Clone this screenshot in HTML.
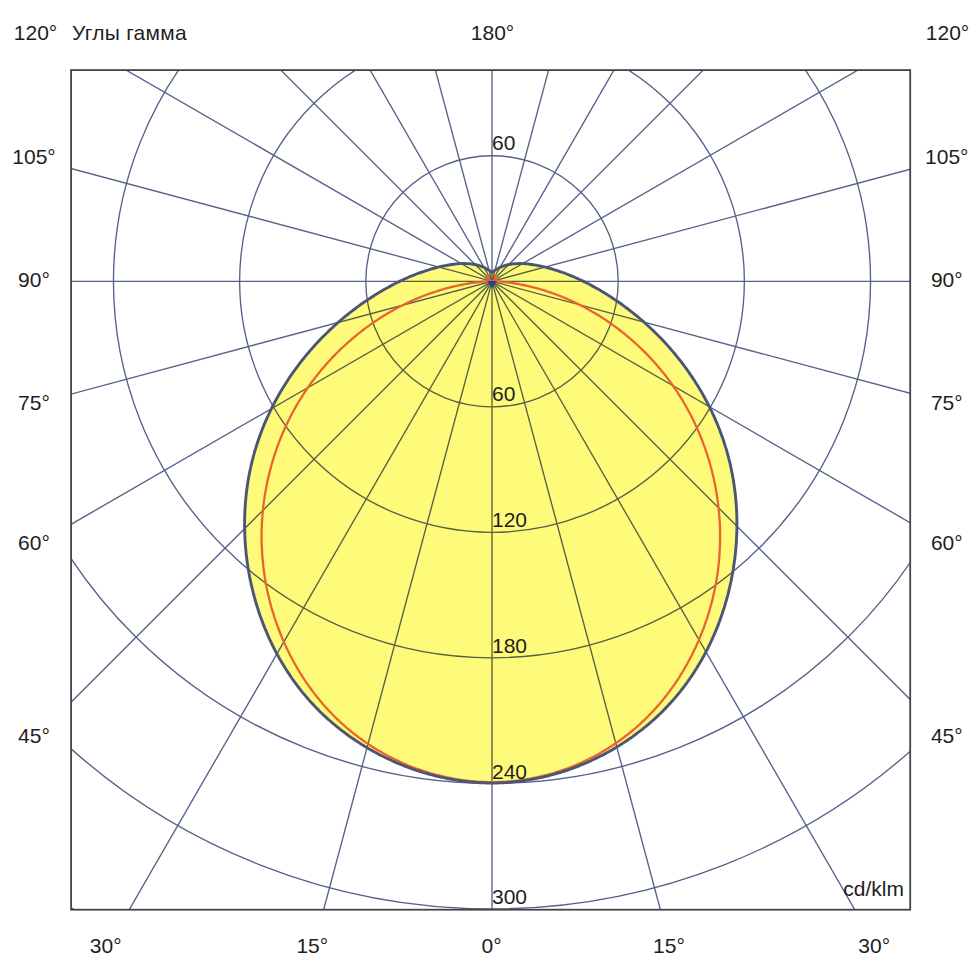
<!DOCTYPE html>
<html><head><meta charset="utf-8"><style>
html,body{margin:0;padding:0;background:#fff;width:980px;height:980px;overflow:hidden}
svg{display:block}
text{font-family:"Liberation Sans",sans-serif;font-size:21px;fill:#1e1e1e}
.g{mix-blend-mode:multiply}
</style></head><body>
<svg width="980" height="980" viewBox="0 0 980 980">
<defs><clipPath id="fr"><rect x="71.1" y="70.1" width="839.1" height="839.6"/></clipPath></defs>
<rect width="980" height="980" fill="#fff"/>
<g clip-path="url(#fr)">
<path d="M492.0,272.5 L490.3,271.1 L488.4,269.9 L486.6,268.8 L484.7,267.8 L482.7,266.9 L480.8,266.2 L478.8,265.5 L476.8,265.0 L474.8,264.5 L472.8,264.2 L470.7,263.9 L468.7,263.7 L466.6,263.6 L464.5,263.5 L462.4,263.5 L460.3,263.6 L458.2,263.7 L456.1,263.9 L454.0,264.2 L451.9,264.5 L449.8,264.8 L447.6,265.2 L445.5,265.6 L443.4,266.0 L441.3,266.4 L439.2,266.9 L437.1,267.4 L435.0,268.0 L433.0,268.5 L430.9,269.1 L428.8,269.8 L426.8,270.4 L424.7,271.1 L422.7,271.8 L420.6,272.5 L418.6,273.2 L416.5,274.0 L414.5,274.8 L412.5,275.6 L410.5,276.4 L408.5,277.3 L406.5,278.2 L404.5,279.0 L402.5,280.0 L400.5,280.9 L398.6,281.9 L396.6,282.8 L394.7,283.8 L392.7,284.8 L390.8,285.9 L388.9,286.9 L387.0,288.0 L385.1,289.0 L383.2,290.1 L381.3,291.2 L379.4,292.3 L377.5,293.5 L375.6,294.6 L373.8,295.8 L371.9,297.0 L370.1,298.2 L368.3,299.4 L366.5,300.6 L364.7,301.8 L362.9,303.0 L361.1,304.3 L359.3,305.6 L357.5,306.9 L355.8,308.2 L354.0,309.5 L352.3,310.8 L350.6,312.1 L348.9,313.5 L347.2,314.8 L345.5,316.2 L343.8,317.6 L342.1,319.0 L340.5,320.4 L338.8,321.8 L337.2,323.3 L335.5,324.7 L333.9,326.2 L332.3,327.7 L330.7,329.2 L329.1,330.6 L327.6,332.2 L326.0,333.7 L324.5,335.2 L322.9,336.7 L321.4,338.3 L319.9,339.9 L318.4,341.4 L316.9,343.0 L315.5,344.6 L314.0,346.2 L312.5,347.9 L311.1,349.5 L309.7,351.1 L308.3,352.8 L306.9,354.4 L305.5,356.1 L304.1,357.8 L302.8,359.5 L301.4,361.2 L300.1,362.9 L298.8,364.6 L297.5,366.4 L296.2,368.1 L294.9,369.8 L293.7,371.6 L292.4,373.4 L291.2,375.2 L289.9,376.9 L288.7,378.7 L287.6,380.5 L286.4,382.4 L285.2,384.2 L284.1,386.0 L282.9,387.9 L281.8,389.7 L280.7,391.6 L279.6,393.4 L278.5,395.3 L277.5,397.2 L276.4,399.1 L275.4,401.0 L274.4,402.9 L273.4,404.8 L272.4,406.7 L271.5,408.6 L270.5,410.6 L269.6,412.5 L268.7,414.5 L267.8,416.4 L266.9,418.4 L266.0,420.4 L265.1,422.4 L264.3,424.3 L263.5,426.3 L262.7,428.3 L261.9,430.3 L261.1,432.4 L260.4,434.4 L259.6,436.4 L258.9,438.4 L258.2,440.5 L257.5,442.5 L256.9,444.6 L256.2,446.6 L255.6,448.7 L254.9,450.7 L254.3,452.8 L253.8,454.9 L253.2,457.0 L252.7,459.1 L252.1,461.2 L251.6,463.3 L251.1,465.4 L250.7,467.5 L250.2,469.6 L249.8,471.7 L249.3,473.8 L248.9,476.0 L248.6,478.1 L248.2,480.2 L247.8,482.4 L247.5,484.5 L247.2,486.7 L246.9,488.8 L246.6,491.0 L246.4,493.1 L246.1,495.3 L245.9,497.4 L245.7,499.6 L245.5,501.8 L245.3,503.9 L245.2,506.1 L245.1,508.3 L244.9,510.4 L244.8,512.6 L244.8,514.8 L244.7,517.0 L244.6,519.1 L244.6,521.3 L244.6,523.5 L244.6,525.7 L244.6,527.9 L244.7,530.0 L244.7,532.2 L244.8,534.4 L244.9,536.6 L245.0,538.8 L245.1,540.9 L245.3,543.1 L245.4,545.3 L245.6,547.5 L245.8,549.7 L246.0,551.8 L246.2,554.0 L246.5,556.2 L246.7,558.3 L247.0,560.5 L247.3,562.7 L247.6,564.8 L247.9,567.0 L248.3,569.2 L248.7,571.3 L249.0,573.5 L249.4,575.6 L249.8,577.8 L250.3,579.9 L250.7,582.0 L251.2,584.2 L251.7,586.3 L252.2,588.4 L252.7,590.6 L253.2,592.7 L253.8,594.8 L254.3,596.9 L254.9,599.0 L255.5,601.1 L256.1,603.2 L256.7,605.3 L257.4,607.4 L258.1,609.5 L258.7,611.5 L259.4,613.6 L260.1,615.7 L260.9,617.7 L261.6,619.8 L262.4,621.8 L263.1,623.9 L263.9,625.9 L264.7,627.9 L265.6,629.9 L266.4,631.9 L267.3,633.9 L268.1,635.9 L269.0,637.9 L269.9,639.9 L270.9,641.9 L271.8,643.8 L272.8,645.8 L273.7,647.7 L274.7,649.6 L275.7,651.6 L276.7,653.5 L277.8,655.4 L278.8,657.3 L279.9,659.2 L281.0,661.1 L282.1,662.9 L283.2,664.8 L284.3,666.6 L285.4,668.5 L286.6,670.3 L287.8,672.1 L289.0,673.9 L290.2,675.7 L291.4,677.5 L292.6,679.3 L293.9,681.0 L295.2,682.8 L296.5,684.5 L297.8,686.3 L299.1,688.0 L300.4,689.7 L301.7,691.4 L303.1,693.1 L304.5,694.7 L305.9,696.4 L307.3,698.0 L308.7,699.6 L310.1,701.3 L311.6,702.9 L313.1,704.4 L314.5,706.0 L316.0,707.6 L317.6,709.1 L319.1,710.7 L320.6,712.2 L322.2,713.7 L323.7,715.2 L325.3,716.6 L326.9,718.1 L328.5,719.6 L330.2,721.0 L331.8,722.4 L333.4,723.8 L335.1,725.2 L336.8,726.6 L338.5,727.9 L340.2,729.3 L341.9,730.6 L343.6,731.9 L345.3,733.2 L347.1,734.5 L348.8,735.8 L350.6,737.1 L352.4,738.3 L354.2,739.5 L356.0,740.7 L357.8,741.9 L359.6,743.1 L361.4,744.3 L363.3,745.4 L365.1,746.6 L367.0,747.7 L368.9,748.8 L370.8,749.9 L372.7,750.9 L374.6,752.0 L376.5,753.0 L378.4,754.1 L380.3,755.1 L382.3,756.0 L384.2,757.0 L386.2,758.0 L388.1,758.9 L390.1,759.8 L392.1,760.7 L394.1,761.6 L396.0,762.5 L398.0,763.4 L400.1,764.2 L402.1,765.0 L404.1,765.8 L406.1,766.6 L408.2,767.4 L410.2,768.1 L412.2,768.9 L414.3,769.6 L416.4,770.3 L418.4,771.0 L420.5,771.6 L422.6,772.3 L424.7,772.9 L426.7,773.5 L428.8,774.1 L430.9,774.7 L433.0,775.2 L435.1,775.8 L437.2,776.3 L439.4,776.8 L441.5,777.3 L443.6,777.7 L445.7,778.2 L447.9,778.6 L450.0,779.0 L452.1,779.4 L454.3,779.8 L456.4,780.1 L458.6,780.5 L460.7,780.8 L462.9,781.1 L465.0,781.3 L467.2,781.6 L469.3,781.8 L471.5,782.1 L473.6,782.2 L475.8,782.4 L478.0,782.6 L480.1,782.7 L482.3,782.8 L484.5,782.9 L486.6,783.0 L488.8,783.1 L491.0,783.1 L493.0,783.1 L495.2,783.1 L497.3,783.0 L499.5,782.9 L501.6,782.8 L503.8,782.7 L505.9,782.6 L508.0,782.4 L510.2,782.2 L512.3,782.1 L514.5,781.8 L516.6,781.6 L518.7,781.3 L520.9,781.1 L523.0,780.8 L525.1,780.5 L527.2,780.1 L529.4,779.8 L531.5,779.4 L533.6,779.0 L535.7,778.6 L537.8,778.2 L539.9,777.7 L542.0,777.3 L544.1,776.8 L546.2,776.3 L548.3,775.8 L550.4,775.2 L552.5,774.7 L554.5,774.1 L556.6,773.5 L558.7,772.9 L560.7,772.3 L562.8,771.6 L564.8,771.0 L566.9,770.3 L568.9,769.6 L571.0,768.9 L573.0,768.1 L575.0,767.4 L577.0,766.6 L579.0,765.8 L581.0,765.0 L583.0,764.2 L585.0,763.4 L587.0,762.5 L589.0,761.6 L590.9,760.7 L592.9,759.8 L594.8,758.9 L596.8,758.0 L598.7,757.0 L600.6,756.0 L602.6,755.1 L604.5,754.1 L606.4,753.0 L608.3,752.0 L610.2,750.9 L612.0,749.9 L613.9,748.8 L615.7,747.7 L617.6,746.6 L619.4,745.4 L621.3,744.3 L623.1,743.1 L624.9,741.9 L626.7,740.7 L628.4,739.5 L630.2,738.3 L632.0,737.1 L633.7,735.8 L635.5,734.5 L637.2,733.2 L638.9,731.9 L640.6,730.6 L642.3,729.3 L644.0,727.9 L645.7,726.6 L647.3,725.2 L649.0,723.8 L650.6,722.4 L652.2,721.0 L653.8,719.6 L655.4,718.1 L657.0,716.6 L658.6,715.2 L660.1,713.7 L661.7,712.2 L663.2,710.7 L664.7,709.1 L666.2,707.6 L667.7,706.0 L669.1,704.4 L670.6,702.9 L672.0,701.3 L673.5,699.6 L674.9,698.0 L676.3,696.4 L677.6,694.7 L679.0,693.1 L680.4,691.4 L681.7,689.7 L683.0,688.0 L684.3,686.3 L685.6,684.5 L686.9,682.8 L688.1,681.0 L689.4,679.3 L690.6,677.5 L691.8,675.7 L693.0,673.9 L694.2,672.1 L695.3,670.3 L696.5,668.5 L697.6,666.6 L698.7,664.8 L699.8,662.9 L700.9,661.1 L702.0,659.2 L703.0,657.3 L704.1,655.4 L705.1,653.5 L706.1,651.6 L707.1,649.6 L708.1,647.7 L709.0,645.8 L710.0,643.8 L710.9,641.9 L711.8,639.9 L712.7,637.9 L713.6,635.9 L714.5,633.9 L715.3,631.9 L716.2,629.9 L717.0,627.9 L717.8,625.9 L718.6,623.9 L719.3,621.8 L720.1,619.8 L720.8,617.7 L721.5,615.7 L722.2,613.6 L722.9,611.5 L723.6,609.5 L724.3,607.4 L724.9,605.3 L725.5,603.2 L726.1,601.1 L726.7,599.0 L727.3,596.9 L727.9,594.8 L728.4,592.7 L728.9,590.6 L729.4,588.4 L729.9,586.3 L730.4,584.2 L730.9,582.0 L731.3,579.9 L731.7,577.8 L732.1,575.6 L732.5,573.5 L732.9,571.3 L733.3,569.2 L733.6,567.0 L733.9,564.8 L734.2,562.7 L734.5,560.5 L734.8,558.3 L735.1,556.2 L735.3,554.0 L735.5,551.8 L735.8,549.7 L735.9,547.5 L736.1,545.3 L736.3,543.1 L736.4,540.9 L736.5,538.8 L736.6,536.6 L736.7,534.4 L736.8,532.2 L736.9,530.0 L736.9,527.9 L736.9,525.7 L736.9,523.5 L736.9,521.3 L736.9,519.1 L736.8,517.0 L736.8,514.8 L736.7,512.6 L736.6,510.4 L736.5,508.3 L736.3,506.1 L736.2,503.9 L736.0,501.8 L735.8,499.6 L735.6,497.4 L735.4,495.3 L735.2,493.1 L734.9,491.0 L734.6,488.8 L734.3,486.7 L734.0,484.5 L733.7,482.4 L733.4,480.2 L733.0,478.1 L732.6,476.0 L732.2,473.8 L731.8,471.7 L731.4,469.6 L730.9,467.5 L730.5,465.4 L730.0,463.3 L729.5,461.2 L728.9,459.1 L728.4,457.0 L727.8,454.9 L727.3,452.8 L726.7,450.7 L726.1,448.7 L725.4,446.6 L724.8,444.6 L724.1,442.5 L723.5,440.5 L722.8,438.4 L722.0,436.4 L721.3,434.4 L720.6,432.4 L719.8,430.3 L719.0,428.3 L718.2,426.3 L717.4,424.3 L716.6,422.4 L715.7,420.4 L714.9,418.4 L714.0,416.4 L713.1,414.5 L712.2,412.5 L711.3,410.6 L710.3,408.6 L709.4,406.7 L708.4,404.8 L707.4,402.9 L706.4,401.0 L705.4,399.1 L704.4,397.2 L703.3,395.3 L702.3,393.4 L701.2,391.6 L700.1,389.7 L699.0,387.9 L697.9,386.0 L696.7,384.2 L695.6,382.4 L694.4,380.5 L693.2,378.7 L692.0,376.9 L690.8,375.2 L689.6,373.4 L688.4,371.6 L687.1,369.8 L685.9,368.1 L684.6,366.4 L683.3,364.6 L682.0,362.9 L680.7,361.2 L679.3,359.5 L678.0,357.8 L676.6,356.1 L675.3,354.4 L673.9,352.8 L672.5,351.1 L671.1,349.5 L669.7,347.9 L668.2,346.2 L666.8,344.6 L665.3,343.0 L663.9,341.4 L662.4,339.9 L660.9,338.3 L659.4,336.7 L657.9,335.2 L656.3,333.7 L654.8,332.2 L653.2,330.6 L651.7,329.2 L650.1,327.7 L648.5,326.2 L646.9,324.7 L645.3,323.3 L643.7,321.8 L642.0,320.4 L640.4,319.0 L638.7,317.6 L637.1,316.2 L635.4,314.8 L633.7,313.5 L632.0,312.1 L630.3,310.8 L628.6,309.5 L626.9,308.2 L625.1,306.9 L623.4,305.6 L621.6,304.3 L619.8,303.0 L618.1,301.8 L616.3,300.6 L614.5,299.4 L612.7,298.2 L610.9,297.0 L609.0,295.8 L607.2,294.6 L605.3,293.5 L603.5,292.3 L601.6,291.2 L599.8,290.1 L597.9,289.0 L596.0,288.0 L594.1,286.9 L592.2,285.9 L590.3,284.8 L588.4,283.8 L586.4,282.8 L584.5,281.9 L582.5,280.9 L580.6,280.0 L578.6,279.0 L576.7,278.2 L574.7,277.3 L572.7,276.4 L570.7,275.6 L568.7,274.8 L566.7,274.0 L564.7,273.2 L562.7,272.5 L560.7,271.8 L558.6,271.1 L556.6,270.4 L554.5,269.8 L552.5,269.1 L550.4,268.5 L548.4,268.0 L546.3,267.4 L544.3,266.9 L542.2,266.4 L540.1,266.0 L538.0,265.6 L535.9,265.2 L533.8,264.8 L531.7,264.5 L529.6,264.2 L527.5,263.9 L525.4,263.7 L523.4,263.6 L521.3,263.5 L519.2,263.5 L517.1,263.6 L515.1,263.7 L513.0,263.9 L511.0,264.2 L509.0,264.5 L507.0,265.0 L505.0,265.5 L503.1,266.2 L501.2,266.9 L499.3,267.8 L497.4,268.8 L495.5,269.9 L493.7,271.1 L492.0,272.5 Z" fill="#fefb7b" stroke="none"/>
<g class="g" stroke="#56618a" stroke-width="1.35" fill="none">
<line x1="492" y1="-1718.7" x2="492" y2="2281.3"/>
<line x1="-25.64" y1="-1650.55" x2="1009.64" y2="2213.15"/>
<line x1="-508" y1="-1450.75" x2="1492" y2="2013.35"/>
<line x1="-922.21" y1="-1132.91" x2="1906.21" y2="1695.51"/>
<line x1="-1240.05" y1="-718.7" x2="2224.05" y2="1281.3"/>
<line x1="-1439.85" y1="-236.34" x2="2423.85" y2="798.94"/>
<line x1="-1508" y1="281.3" x2="2492" y2="281.3"/>
<line x1="-1439.85" y1="798.94" x2="2423.85" y2="-236.34"/>
<line x1="-1240.05" y1="1281.3" x2="2224.05" y2="-718.7"/>
<line x1="-922.21" y1="1695.51" x2="1906.21" y2="-1132.91"/>
<line x1="-508" y1="2013.35" x2="1492" y2="-1450.75"/>
<line x1="-25.64" y1="2213.15" x2="1009.64" y2="-1650.55"/>
<ellipse cx="492" cy="281.3" rx="126.18" ry="125.52"/>
<ellipse cx="492" cy="281.3" rx="252.36" ry="251.04"/>
<ellipse cx="492" cy="281.3" rx="378.54" ry="376.56"/>
<ellipse cx="492" cy="281.3" rx="504.72" ry="502.08"/>
<ellipse cx="492" cy="281.3" rx="630.9" ry="627.6"/>
<ellipse cx="492" cy="281.3" rx="757.08" ry="753.12"/>
</g>
<path d="M492.0,281.0 L489.9,281.1 L487.8,281.2 L485.6,281.4 L483.5,281.6 L481.4,281.8 L479.3,282.0 L477.2,282.3 L475.1,282.5 L473.0,282.8 L470.9,283.1 L468.8,283.5 L466.7,283.8 L464.7,284.2 L462.6,284.6 L460.5,285.0 L458.4,285.4 L456.4,285.9 L454.3,286.3 L452.2,286.8 L450.2,287.4 L448.1,287.9 L446.1,288.4 L444.1,289.0 L442.0,289.6 L440.0,290.2 L438.0,290.8 L436.0,291.5 L434.0,292.1 L432.0,292.8 L430.0,293.5 L428.0,294.2 L426.0,295.0 L424.0,295.7 L422.0,296.5 L420.1,297.3 L418.1,298.1 L416.2,298.9 L414.2,299.8 L412.3,300.6 L410.4,301.5 L408.4,302.4 L406.5,303.3 L404.6,304.2 L402.7,305.2 L400.8,306.1 L398.9,307.1 L397.1,308.1 L395.2,309.1 L393.3,310.2 L391.5,311.2 L389.6,312.3 L387.8,313.3 L386.0,314.4 L384.2,315.5 L382.4,316.6 L380.6,317.8 L378.8,318.9 L377.0,320.1 L375.2,321.3 L373.5,322.5 L371.7,323.7 L370.0,324.9 L368.3,326.2 L366.5,327.4 L364.8,328.7 L363.1,330.0 L361.4,331.3 L359.8,332.6 L358.1,333.9 L356.4,335.3 L354.8,336.6 L353.2,338.0 L351.5,339.4 L349.9,340.8 L348.3,342.2 L346.7,343.6 L345.2,345.0 L343.6,346.5 L342.0,347.9 L340.5,349.4 L339.0,350.9 L337.5,352.4 L335.9,353.9 L334.5,355.4 L333.0,356.9 L331.5,358.5 L330.1,360.0 L328.6,361.6 L327.2,363.2 L325.8,364.8 L324.4,366.4 L323.0,368.0 L321.6,369.6 L320.3,371.3 L318.9,372.9 L317.6,374.6 L316.3,376.2 L315.0,377.9 L313.7,379.6 L312.4,381.3 L311.1,383.0 L309.9,384.7 L308.7,386.5 L307.5,388.2 L306.3,390.0 L305.1,391.7 L303.9,393.5 L302.8,395.3 L301.6,397.1 L300.5,398.9 L299.4,400.7 L298.3,402.5 L297.2,404.3 L296.2,406.1 L295.1,408.0 L294.1,409.8 L293.1,411.7 L292.1,413.5 L291.1,415.4 L290.1,417.3 L289.2,419.2 L288.2,421.1 L287.3,423.0 L286.4,424.9 L285.5,426.8 L284.6,428.8 L283.8,430.7 L282.9,432.6 L282.1,434.6 L281.3,436.5 L280.5,438.5 L279.7,440.5 L279.0,442.4 L278.2,444.4 L277.5,446.4 L276.8,448.4 L276.1,450.4 L275.4,452.4 L274.7,454.4 L274.1,456.4 L273.4,458.4 L272.8,460.4 L272.2,462.5 L271.6,464.5 L271.1,466.5 L270.5,468.6 L270.0,470.6 L269.5,472.7 L269.0,474.7 L268.5,476.8 L268.0,478.8 L267.5,480.9 L267.1,483.0 L266.7,485.1 L266.3,487.1 L265.9,489.2 L265.5,491.3 L265.2,493.4 L264.8,495.5 L264.5,497.6 L264.2,499.7 L263.9,501.8 L263.6,503.9 L263.4,506.0 L263.1,508.1 L262.9,510.2 L262.7,512.3 L262.5,514.4 L262.4,516.5 L262.2,518.6 L262.1,520.7 L261.9,522.9 L261.8,525.0 L261.8,527.1 L261.7,529.2 L261.6,531.3 L261.6,533.4 L261.6,535.6 L261.6,537.7 L261.6,539.8 L261.6,541.9 L261.7,544.1 L261.8,546.2 L261.9,548.3 L262.0,550.4 L262.1,552.5 L262.2,554.7 L262.4,556.8 L262.6,558.9 L262.7,561.0 L263.0,563.1 L263.2,565.2 L263.4,567.4 L263.7,569.5 L264.0,571.6 L264.3,573.7 L264.6,575.8 L264.9,577.9 L265.3,580.0 L265.6,582.1 L266.0,584.2 L266.4,586.3 L266.8,588.4 L267.3,590.5 L267.7,592.6 L268.2,594.6 L268.7,596.7 L269.2,598.8 L269.7,600.9 L270.2,602.9 L270.8,605.0 L271.3,607.0 L271.9,609.1 L272.5,611.1 L273.2,613.2 L273.8,615.2 L274.4,617.3 L275.1,619.3 L275.8,621.3 L276.5,623.3 L277.2,625.3 L278.0,627.3 L278.7,629.3 L279.5,631.3 L280.3,633.3 L281.1,635.3 L281.9,637.3 L282.7,639.2 L283.5,641.2 L284.4,643.1 L285.3,645.1 L286.2,647.0 L287.1,648.9 L288.0,650.8 L289.0,652.8 L289.9,654.7 L290.9,656.6 L291.9,658.4 L292.9,660.3 L293.9,662.2 L294.9,664.0 L296.0,665.9 L297.0,667.7 L298.1,669.6 L299.2,671.4 L300.3,673.2 L301.5,675.0 L302.6,676.8 L303.7,678.6 L304.9,680.3 L306.1,682.1 L307.3,683.8 L308.5,685.6 L309.7,687.3 L311.0,689.0 L312.2,690.7 L313.5,692.4 L314.8,694.1 L316.1,695.8 L317.4,697.4 L318.8,699.1 L320.1,700.7 L321.5,702.3 L322.8,703.9 L324.2,705.5 L325.6,707.1 L327.1,708.7 L328.5,710.2 L329.9,711.8 L331.4,713.3 L332.9,714.8 L334.3,716.3 L335.8,717.8 L337.4,719.3 L338.9,720.7 L340.4,722.2 L342.0,723.6 L343.6,725.0 L345.1,726.4 L346.7,727.8 L348.3,729.1 L350.0,730.5 L351.6,731.8 L353.3,733.1 L354.9,734.5 L356.6,735.7 L358.3,737.0 L360.0,738.3 L361.7,739.5 L363.4,740.7 L365.1,742.0 L366.9,743.1 L368.6,744.3 L370.4,745.5 L372.2,746.6 L373.9,747.8 L375.7,748.9 L377.5,750.0 L379.4,751.1 L381.2,752.1 L383.0,753.2 L384.9,754.2 L386.7,755.2 L388.6,756.2 L390.5,757.2 L392.3,758.1 L394.2,759.1 L396.1,760.0 L398.0,760.9 L400.0,761.8 L401.9,762.7 L403.8,763.5 L405.8,764.4 L407.7,765.2 L409.7,766.0 L411.6,766.8 L413.6,767.5 L415.6,768.3 L417.6,769.0 L419.6,769.7 L421.6,770.4 L423.6,771.1 L425.6,771.7 L427.6,772.3 L429.6,773.0 L431.7,773.5 L433.7,774.1 L435.7,774.7 L437.8,775.2 L439.9,775.7 L441.9,776.2 L444.0,776.7 L446.0,777.2 L448.1,777.6 L450.2,778.0 L452.3,778.4 L454.4,778.8 L456.5,779.2 L458.6,779.5 L460.7,779.8 L462.8,780.1 L464.9,780.4 L467.0,780.6 L469.1,780.9 L471.2,781.1 L473.3,781.3 L475.4,781.5 L477.6,781.6 L479.7,781.8 L481.8,781.9 L483.9,782.0 L486.0,782.0 L488.2,782.1 L490.3,782.1 L492.0,782.1 L493.7,782.1 L495.8,782.1 L497.9,782.0 L500.0,782.0 L502.1,781.9 L504.2,781.8 L506.3,781.6 L508.4,781.5 L510.5,781.3 L512.6,781.1 L514.7,780.9 L516.8,780.6 L518.9,780.4 L520.9,780.1 L523.0,779.8 L525.1,779.5 L527.2,779.2 L529.3,778.8 L531.3,778.4 L533.4,778.0 L535.4,777.6 L537.5,777.2 L539.5,776.7 L541.6,776.2 L543.6,775.7 L545.7,775.2 L547.7,774.7 L549.7,774.1 L551.7,773.5 L553.7,773.0 L555.7,772.3 L557.7,771.7 L559.7,771.1 L561.7,770.4 L563.7,769.7 L565.7,769.0 L567.6,768.3 L569.6,767.5 L571.6,766.8 L573.5,766.0 L575.4,765.2 L577.4,764.4 L579.3,763.5 L581.2,762.7 L583.1,761.8 L585.0,760.9 L586.9,760.0 L588.8,759.1 L590.7,758.1 L592.5,757.2 L594.4,756.2 L596.2,755.2 L598.1,754.2 L599.9,753.2 L601.7,752.1 L603.5,751.1 L605.3,750.0 L607.1,748.9 L608.9,747.8 L610.6,746.6 L612.4,745.5 L614.2,744.3 L615.9,743.1 L617.6,742.0 L619.3,740.7 L621.0,739.5 L622.7,738.3 L624.4,737.0 L626.1,735.7 L627.7,734.5 L629.4,733.1 L631.0,731.8 L632.6,730.5 L634.2,729.1 L635.8,727.8 L637.4,726.4 L639.0,725.0 L640.5,723.6 L642.0,722.2 L643.6,720.7 L645.1,719.3 L646.6,717.8 L648.1,716.3 L649.5,714.8 L651.0,713.3 L652.5,711.8 L653.9,710.2 L655.3,708.7 L656.7,707.1 L658.1,705.5 L659.5,703.9 L660.8,702.3 L662.2,700.7 L663.5,699.1 L664.8,697.4 L666.1,695.8 L667.4,694.1 L668.7,692.4 L670.0,690.7 L671.2,689.0 L672.4,687.3 L673.6,685.6 L674.9,683.8 L676.0,682.1 L677.2,680.3 L678.4,678.6 L679.5,676.8 L680.6,675.0 L681.8,673.2 L682.9,671.4 L683.9,669.6 L685.0,667.7 L686.1,665.9 L687.1,664.0 L688.1,662.2 L689.1,660.3 L690.1,658.4 L691.1,656.6 L692.1,654.7 L693.0,652.8 L693.9,650.8 L694.9,648.9 L695.8,647.0 L696.6,645.1 L697.5,643.1 L698.4,641.2 L699.2,639.2 L700.0,637.3 L700.8,635.3 L701.6,633.3 L702.4,631.3 L703.2,629.3 L703.9,627.3 L704.6,625.3 L705.3,623.3 L706.0,621.3 L706.7,619.3 L707.4,617.3 L708.0,615.2 L708.7,613.2 L709.3,611.1 L709.9,609.1 L710.4,607.0 L711.0,605.0 L711.6,602.9 L712.1,600.9 L712.6,598.8 L713.1,596.7 L713.6,594.6 L714.0,592.6 L714.5,590.5 L714.9,588.4 L715.3,586.3 L715.7,584.2 L716.1,582.1 L716.5,580.0 L716.8,577.9 L717.1,575.8 L717.5,573.7 L717.8,571.6 L718.0,569.5 L718.3,567.4 L718.5,565.2 L718.8,563.1 L719.0,561.0 L719.2,558.9 L719.3,556.8 L719.5,554.7 L719.6,552.5 L719.7,550.4 L719.8,548.3 L719.9,546.2 L720.0,544.1 L720.1,541.9 L720.1,539.8 L720.1,537.7 L720.1,535.6 L720.1,533.4 L720.1,531.3 L720.0,529.2 L719.9,527.1 L719.9,525.0 L719.8,522.9 L719.6,520.7 L719.5,518.6 L719.3,516.5 L719.2,514.4 L719.0,512.3 L718.8,510.2 L718.6,508.1 L718.3,506.0 L718.1,503.9 L717.8,501.8 L717.5,499.7 L717.2,497.6 L716.9,495.5 L716.6,493.4 L716.2,491.3 L715.9,489.2 L715.5,487.1 L715.1,485.1 L714.7,483.0 L714.2,480.9 L713.8,478.8 L713.3,476.8 L712.8,474.7 L712.3,472.7 L711.8,470.6 L711.3,468.6 L710.7,466.5 L710.2,464.5 L709.6,462.5 L709.0,460.4 L708.4,458.4 L707.7,456.4 L707.1,454.4 L706.4,452.4 L705.8,450.4 L705.1,448.4 L704.4,446.4 L703.6,444.4 L702.9,442.4 L702.2,440.5 L701.4,438.5 L700.6,436.5 L699.8,434.6 L699.0,432.6 L698.1,430.7 L697.3,428.8 L696.4,426.8 L695.5,424.9 L694.6,423.0 L693.7,421.1 L692.8,419.2 L691.9,417.3 L690.9,415.4 L689.9,413.5 L688.9,411.7 L687.9,409.8 L686.9,408.0 L685.9,406.1 L684.8,404.3 L683.8,402.5 L682.7,400.7 L681.6,398.9 L680.5,397.1 L679.4,395.3 L678.2,393.5 L677.1,391.7 L675.9,390.0 L674.7,388.2 L673.5,386.5 L672.3,384.7 L671.0,383.0 L669.8,381.3 L668.5,379.6 L667.3,377.9 L666.0,376.2 L664.7,374.6 L663.4,372.9 L662.0,371.3 L660.7,369.6 L659.3,368.0 L657.9,366.4 L656.6,364.8 L655.2,363.2 L653.7,361.6 L652.3,360.0 L650.9,358.5 L649.4,356.9 L648.0,355.4 L646.5,353.9 L645.0,352.4 L643.5,350.9 L642.0,349.4 L640.5,347.9 L638.9,346.5 L637.4,345.0 L635.8,343.6 L634.2,342.2 L632.7,340.8 L631.1,339.4 L629.5,338.0 L627.8,336.6 L626.2,335.3 L624.6,333.9 L622.9,332.6 L621.3,331.3 L619.6,330.0 L617.9,328.7 L616.2,327.4 L614.5,326.2 L612.8,324.9 L611.1,323.7 L609.3,322.5 L607.6,321.3 L605.9,320.1 L604.1,318.9 L602.3,317.8 L600.5,316.6 L598.8,315.5 L597.0,314.4 L595.1,313.3 L593.3,312.3 L591.5,311.2 L589.7,310.2 L587.8,309.1 L586.0,308.1 L584.1,307.1 L582.3,306.1 L580.4,305.2 L578.5,304.2 L576.6,303.3 L574.7,302.4 L572.8,301.5 L570.9,300.6 L569.0,299.8 L567.1,298.9 L565.1,298.1 L563.2,297.3 L561.3,296.5 L559.3,295.7 L557.3,295.0 L555.4,294.2 L553.4,293.5 L551.4,292.8 L549.4,292.1 L547.5,291.5 L545.5,290.8 L543.5,290.2 L541.5,289.6 L539.4,289.0 L537.4,288.4 L535.4,287.9 L533.4,287.4 L531.4,286.8 L529.3,286.3 L527.3,285.9 L525.2,285.4 L523.2,285.0 L521.1,284.6 L519.1,284.2 L517.0,283.8 L514.9,283.5 L512.9,283.1 L510.8,282.8 L508.7,282.5 L506.6,282.3 L504.6,282.0 L502.5,281.8 L500.4,281.6 L498.3,281.4 L496.2,281.2 L494.1,281.1 L492.0,281.0 Z" fill="none" stroke="#ea652e" stroke-width="2.3" stroke-linejoin="round"/>
<path d="M492.0,272.5 L490.3,271.1 L488.4,269.9 L486.6,268.8 L484.7,267.8 L482.7,266.9 L480.8,266.2 L478.8,265.5 L476.8,265.0 L474.8,264.5 L472.8,264.2 L470.7,263.9 L468.7,263.7 L466.6,263.6 L464.5,263.5 L462.4,263.5 L460.3,263.6 L458.2,263.7 L456.1,263.9 L454.0,264.2 L451.9,264.5 L449.8,264.8 L447.6,265.2 L445.5,265.6 L443.4,266.0 L441.3,266.4 L439.2,266.9 L437.1,267.4 L435.0,268.0 L433.0,268.5 L430.9,269.1 L428.8,269.8 L426.8,270.4 L424.7,271.1 L422.7,271.8 L420.6,272.5 L418.6,273.2 L416.5,274.0 L414.5,274.8 L412.5,275.6 L410.5,276.4 L408.5,277.3 L406.5,278.2 L404.5,279.0 L402.5,280.0 L400.5,280.9 L398.6,281.9 L396.6,282.8 L394.7,283.8 L392.7,284.8 L390.8,285.9 L388.9,286.9 L387.0,288.0 L385.1,289.0 L383.2,290.1 L381.3,291.2 L379.4,292.3 L377.5,293.5 L375.6,294.6 L373.8,295.8 L371.9,297.0 L370.1,298.2 L368.3,299.4 L366.5,300.6 L364.7,301.8 L362.9,303.0 L361.1,304.3 L359.3,305.6 L357.5,306.9 L355.8,308.2 L354.0,309.5 L352.3,310.8 L350.6,312.1 L348.9,313.5 L347.2,314.8 L345.5,316.2 L343.8,317.6 L342.1,319.0 L340.5,320.4 L338.8,321.8 L337.2,323.3 L335.5,324.7 L333.9,326.2 L332.3,327.7 L330.7,329.2 L329.1,330.6 L327.6,332.2 L326.0,333.7 L324.5,335.2 L322.9,336.7 L321.4,338.3 L319.9,339.9 L318.4,341.4 L316.9,343.0 L315.5,344.6 L314.0,346.2 L312.5,347.9 L311.1,349.5 L309.7,351.1 L308.3,352.8 L306.9,354.4 L305.5,356.1 L304.1,357.8 L302.8,359.5 L301.4,361.2 L300.1,362.9 L298.8,364.6 L297.5,366.4 L296.2,368.1 L294.9,369.8 L293.7,371.6 L292.4,373.4 L291.2,375.2 L289.9,376.9 L288.7,378.7 L287.6,380.5 L286.4,382.4 L285.2,384.2 L284.1,386.0 L282.9,387.9 L281.8,389.7 L280.7,391.6 L279.6,393.4 L278.5,395.3 L277.5,397.2 L276.4,399.1 L275.4,401.0 L274.4,402.9 L273.4,404.8 L272.4,406.7 L271.5,408.6 L270.5,410.6 L269.6,412.5 L268.7,414.5 L267.8,416.4 L266.9,418.4 L266.0,420.4 L265.1,422.4 L264.3,424.3 L263.5,426.3 L262.7,428.3 L261.9,430.3 L261.1,432.4 L260.4,434.4 L259.6,436.4 L258.9,438.4 L258.2,440.5 L257.5,442.5 L256.9,444.6 L256.2,446.6 L255.6,448.7 L254.9,450.7 L254.3,452.8 L253.8,454.9 L253.2,457.0 L252.7,459.1 L252.1,461.2 L251.6,463.3 L251.1,465.4 L250.7,467.5 L250.2,469.6 L249.8,471.7 L249.3,473.8 L248.9,476.0 L248.6,478.1 L248.2,480.2 L247.8,482.4 L247.5,484.5 L247.2,486.7 L246.9,488.8 L246.6,491.0 L246.4,493.1 L246.1,495.3 L245.9,497.4 L245.7,499.6 L245.5,501.8 L245.3,503.9 L245.2,506.1 L245.1,508.3 L244.9,510.4 L244.8,512.6 L244.8,514.8 L244.7,517.0 L244.6,519.1 L244.6,521.3 L244.6,523.5 L244.6,525.7 L244.6,527.9 L244.7,530.0 L244.7,532.2 L244.8,534.4 L244.9,536.6 L245.0,538.8 L245.1,540.9 L245.3,543.1 L245.4,545.3 L245.6,547.5 L245.8,549.7 L246.0,551.8 L246.2,554.0 L246.5,556.2 L246.7,558.3 L247.0,560.5 L247.3,562.7 L247.6,564.8 L247.9,567.0 L248.3,569.2 L248.7,571.3 L249.0,573.5 L249.4,575.6 L249.8,577.8 L250.3,579.9 L250.7,582.0 L251.2,584.2 L251.7,586.3 L252.2,588.4 L252.7,590.6 L253.2,592.7 L253.8,594.8 L254.3,596.9 L254.9,599.0 L255.5,601.1 L256.1,603.2 L256.7,605.3 L257.4,607.4 L258.1,609.5 L258.7,611.5 L259.4,613.6 L260.1,615.7 L260.9,617.7 L261.6,619.8 L262.4,621.8 L263.1,623.9 L263.9,625.9 L264.7,627.9 L265.6,629.9 L266.4,631.9 L267.3,633.9 L268.1,635.9 L269.0,637.9 L269.9,639.9 L270.9,641.9 L271.8,643.8 L272.8,645.8 L273.7,647.7 L274.7,649.6 L275.7,651.6 L276.7,653.5 L277.8,655.4 L278.8,657.3 L279.9,659.2 L281.0,661.1 L282.1,662.9 L283.2,664.8 L284.3,666.6 L285.4,668.5 L286.6,670.3 L287.8,672.1 L289.0,673.9 L290.2,675.7 L291.4,677.5 L292.6,679.3 L293.9,681.0 L295.2,682.8 L296.5,684.5 L297.8,686.3 L299.1,688.0 L300.4,689.7 L301.7,691.4 L303.1,693.1 L304.5,694.7 L305.9,696.4 L307.3,698.0 L308.7,699.6 L310.1,701.3 L311.6,702.9 L313.1,704.4 L314.5,706.0 L316.0,707.6 L317.6,709.1 L319.1,710.7 L320.6,712.2 L322.2,713.7 L323.7,715.2 L325.3,716.6 L326.9,718.1 L328.5,719.6 L330.2,721.0 L331.8,722.4 L333.4,723.8 L335.1,725.2 L336.8,726.6 L338.5,727.9 L340.2,729.3 L341.9,730.6 L343.6,731.9 L345.3,733.2 L347.1,734.5 L348.8,735.8 L350.6,737.1 L352.4,738.3 L354.2,739.5 L356.0,740.7 L357.8,741.9 L359.6,743.1 L361.4,744.3 L363.3,745.4 L365.1,746.6 L367.0,747.7 L368.9,748.8 L370.8,749.9 L372.7,750.9 L374.6,752.0 L376.5,753.0 L378.4,754.1 L380.3,755.1 L382.3,756.0 L384.2,757.0 L386.2,758.0 L388.1,758.9 L390.1,759.8 L392.1,760.7 L394.1,761.6 L396.0,762.5 L398.0,763.4 L400.1,764.2 L402.1,765.0 L404.1,765.8 L406.1,766.6 L408.2,767.4 L410.2,768.1 L412.2,768.9 L414.3,769.6 L416.4,770.3 L418.4,771.0 L420.5,771.6 L422.6,772.3 L424.7,772.9 L426.7,773.5 L428.8,774.1 L430.9,774.7 L433.0,775.2 L435.1,775.8 L437.2,776.3 L439.4,776.8 L441.5,777.3 L443.6,777.7 L445.7,778.2 L447.9,778.6 L450.0,779.0 L452.1,779.4 L454.3,779.8 L456.4,780.1 L458.6,780.5 L460.7,780.8 L462.9,781.1 L465.0,781.3 L467.2,781.6 L469.3,781.8 L471.5,782.1 L473.6,782.2 L475.8,782.4 L478.0,782.6 L480.1,782.7 L482.3,782.8 L484.5,782.9 L486.6,783.0 L488.8,783.1 L491.0,783.1 L493.0,783.1 L495.2,783.1 L497.3,783.0 L499.5,782.9 L501.6,782.8 L503.8,782.7 L505.9,782.6 L508.0,782.4 L510.2,782.2 L512.3,782.1 L514.5,781.8 L516.6,781.6 L518.7,781.3 L520.9,781.1 L523.0,780.8 L525.1,780.5 L527.2,780.1 L529.4,779.8 L531.5,779.4 L533.6,779.0 L535.7,778.6 L537.8,778.2 L539.9,777.7 L542.0,777.3 L544.1,776.8 L546.2,776.3 L548.3,775.8 L550.4,775.2 L552.5,774.7 L554.5,774.1 L556.6,773.5 L558.7,772.9 L560.7,772.3 L562.8,771.6 L564.8,771.0 L566.9,770.3 L568.9,769.6 L571.0,768.9 L573.0,768.1 L575.0,767.4 L577.0,766.6 L579.0,765.8 L581.0,765.0 L583.0,764.2 L585.0,763.4 L587.0,762.5 L589.0,761.6 L590.9,760.7 L592.9,759.8 L594.8,758.9 L596.8,758.0 L598.7,757.0 L600.6,756.0 L602.6,755.1 L604.5,754.1 L606.4,753.0 L608.3,752.0 L610.2,750.9 L612.0,749.9 L613.9,748.8 L615.7,747.7 L617.6,746.6 L619.4,745.4 L621.3,744.3 L623.1,743.1 L624.9,741.9 L626.7,740.7 L628.4,739.5 L630.2,738.3 L632.0,737.1 L633.7,735.8 L635.5,734.5 L637.2,733.2 L638.9,731.9 L640.6,730.6 L642.3,729.3 L644.0,727.9 L645.7,726.6 L647.3,725.2 L649.0,723.8 L650.6,722.4 L652.2,721.0 L653.8,719.6 L655.4,718.1 L657.0,716.6 L658.6,715.2 L660.1,713.7 L661.7,712.2 L663.2,710.7 L664.7,709.1 L666.2,707.6 L667.7,706.0 L669.1,704.4 L670.6,702.9 L672.0,701.3 L673.5,699.6 L674.9,698.0 L676.3,696.4 L677.6,694.7 L679.0,693.1 L680.4,691.4 L681.7,689.7 L683.0,688.0 L684.3,686.3 L685.6,684.5 L686.9,682.8 L688.1,681.0 L689.4,679.3 L690.6,677.5 L691.8,675.7 L693.0,673.9 L694.2,672.1 L695.3,670.3 L696.5,668.5 L697.6,666.6 L698.7,664.8 L699.8,662.9 L700.9,661.1 L702.0,659.2 L703.0,657.3 L704.1,655.4 L705.1,653.5 L706.1,651.6 L707.1,649.6 L708.1,647.7 L709.0,645.8 L710.0,643.8 L710.9,641.9 L711.8,639.9 L712.7,637.9 L713.6,635.9 L714.5,633.9 L715.3,631.9 L716.2,629.9 L717.0,627.9 L717.8,625.9 L718.6,623.9 L719.3,621.8 L720.1,619.8 L720.8,617.7 L721.5,615.7 L722.2,613.6 L722.9,611.5 L723.6,609.5 L724.3,607.4 L724.9,605.3 L725.5,603.2 L726.1,601.1 L726.7,599.0 L727.3,596.9 L727.9,594.8 L728.4,592.7 L728.9,590.6 L729.4,588.4 L729.9,586.3 L730.4,584.2 L730.9,582.0 L731.3,579.9 L731.7,577.8 L732.1,575.6 L732.5,573.5 L732.9,571.3 L733.3,569.2 L733.6,567.0 L733.9,564.8 L734.2,562.7 L734.5,560.5 L734.8,558.3 L735.1,556.2 L735.3,554.0 L735.5,551.8 L735.8,549.7 L735.9,547.5 L736.1,545.3 L736.3,543.1 L736.4,540.9 L736.5,538.8 L736.6,536.6 L736.7,534.4 L736.8,532.2 L736.9,530.0 L736.9,527.9 L736.9,525.7 L736.9,523.5 L736.9,521.3 L736.9,519.1 L736.8,517.0 L736.8,514.8 L736.7,512.6 L736.6,510.4 L736.5,508.3 L736.3,506.1 L736.2,503.9 L736.0,501.8 L735.8,499.6 L735.6,497.4 L735.4,495.3 L735.2,493.1 L734.9,491.0 L734.6,488.8 L734.3,486.7 L734.0,484.5 L733.7,482.4 L733.4,480.2 L733.0,478.1 L732.6,476.0 L732.2,473.8 L731.8,471.7 L731.4,469.6 L730.9,467.5 L730.5,465.4 L730.0,463.3 L729.5,461.2 L728.9,459.1 L728.4,457.0 L727.8,454.9 L727.3,452.8 L726.7,450.7 L726.1,448.7 L725.4,446.6 L724.8,444.6 L724.1,442.5 L723.5,440.5 L722.8,438.4 L722.0,436.4 L721.3,434.4 L720.6,432.4 L719.8,430.3 L719.0,428.3 L718.2,426.3 L717.4,424.3 L716.6,422.4 L715.7,420.4 L714.9,418.4 L714.0,416.4 L713.1,414.5 L712.2,412.5 L711.3,410.6 L710.3,408.6 L709.4,406.7 L708.4,404.8 L707.4,402.9 L706.4,401.0 L705.4,399.1 L704.4,397.2 L703.3,395.3 L702.3,393.4 L701.2,391.6 L700.1,389.7 L699.0,387.9 L697.9,386.0 L696.7,384.2 L695.6,382.4 L694.4,380.5 L693.2,378.7 L692.0,376.9 L690.8,375.2 L689.6,373.4 L688.4,371.6 L687.1,369.8 L685.9,368.1 L684.6,366.4 L683.3,364.6 L682.0,362.9 L680.7,361.2 L679.3,359.5 L678.0,357.8 L676.6,356.1 L675.3,354.4 L673.9,352.8 L672.5,351.1 L671.1,349.5 L669.7,347.9 L668.2,346.2 L666.8,344.6 L665.3,343.0 L663.9,341.4 L662.4,339.9 L660.9,338.3 L659.4,336.7 L657.9,335.2 L656.3,333.7 L654.8,332.2 L653.2,330.6 L651.7,329.2 L650.1,327.7 L648.5,326.2 L646.9,324.7 L645.3,323.3 L643.7,321.8 L642.0,320.4 L640.4,319.0 L638.7,317.6 L637.1,316.2 L635.4,314.8 L633.7,313.5 L632.0,312.1 L630.3,310.8 L628.6,309.5 L626.9,308.2 L625.1,306.9 L623.4,305.6 L621.6,304.3 L619.8,303.0 L618.1,301.8 L616.3,300.6 L614.5,299.4 L612.7,298.2 L610.9,297.0 L609.0,295.8 L607.2,294.6 L605.3,293.5 L603.5,292.3 L601.6,291.2 L599.8,290.1 L597.9,289.0 L596.0,288.0 L594.1,286.9 L592.2,285.9 L590.3,284.8 L588.4,283.8 L586.4,282.8 L584.5,281.9 L582.5,280.9 L580.6,280.0 L578.6,279.0 L576.7,278.2 L574.7,277.3 L572.7,276.4 L570.7,275.6 L568.7,274.8 L566.7,274.0 L564.7,273.2 L562.7,272.5 L560.7,271.8 L558.6,271.1 L556.6,270.4 L554.5,269.8 L552.5,269.1 L550.4,268.5 L548.4,268.0 L546.3,267.4 L544.3,266.9 L542.2,266.4 L540.1,266.0 L538.0,265.6 L535.9,265.2 L533.8,264.8 L531.7,264.5 L529.6,264.2 L527.5,263.9 L525.4,263.7 L523.4,263.6 L521.3,263.5 L519.2,263.5 L517.1,263.6 L515.1,263.7 L513.0,263.9 L511.0,264.2 L509.0,264.5 L507.0,265.0 L505.0,265.5 L503.1,266.2 L501.2,266.9 L499.3,267.8 L497.4,268.8 L495.5,269.9 L493.7,271.1 L492.0,272.5 Z" fill="none" stroke="#4b5676" stroke-width="2.9" stroke-linejoin="round"/>
<path d="M487.5,281 L496.5,281 L492,288 Z" fill="#2d3f92"/>
<path d="M485.5,280.5 L489,273.5 L491,280.5 Z M498.5,280.5 L495,273.5 L493,280.5 Z" fill="#ee5f30"/>
</g>
<rect x="71.1" y="70.1" width="839.1" height="839.6" fill="none" stroke="#444" stroke-width="1.8"/>
<text x="35.5" y="40" text-anchor="middle">120°</text>
<text x="72" y="40" text-anchor="start" letter-spacing="0.27">Углы гамма</text>
<text x="492.5" y="40" text-anchor="middle">180°</text>
<text x="947.5" y="40" text-anchor="middle">120°</text>
<text x="34" y="164" text-anchor="middle">105°</text>
<text x="946.8" y="164" text-anchor="middle">105°</text>
<text x="34" y="287" text-anchor="middle">90°</text>
<text x="946.8" y="287" text-anchor="middle">90°</text>
<text x="34" y="409.5" text-anchor="middle">75°</text>
<text x="946.8" y="409.5" text-anchor="middle">75°</text>
<text x="34" y="549.5" text-anchor="middle">60°</text>
<text x="946.8" y="549.5" text-anchor="middle">60°</text>
<text x="34" y="743" text-anchor="middle">45°</text>
<text x="946.8" y="743" text-anchor="middle">45°</text>
<text x="105.7" y="952.8" text-anchor="middle">30°</text>
<text x="312.3" y="952.8" text-anchor="middle">15°</text>
<text x="491.5" y="952.8" text-anchor="middle">0°</text>
<text x="669" y="952.8" text-anchor="middle">15°</text>
<text x="874.2" y="952.8" text-anchor="middle">30°</text>
<text x="492" y="149.8" text-anchor="start">60</text>
<text x="492" y="400.8" text-anchor="start">60</text>
<text x="492" y="527" text-anchor="start">120</text>
<text x="492" y="653" text-anchor="start">180</text>
<text x="492" y="779" text-anchor="start">240</text>
<text x="492" y="904" text-anchor="start">300</text>
<text x="904" y="896.3" text-anchor="end">cd/klm</text>
</svg>
</body></html>
